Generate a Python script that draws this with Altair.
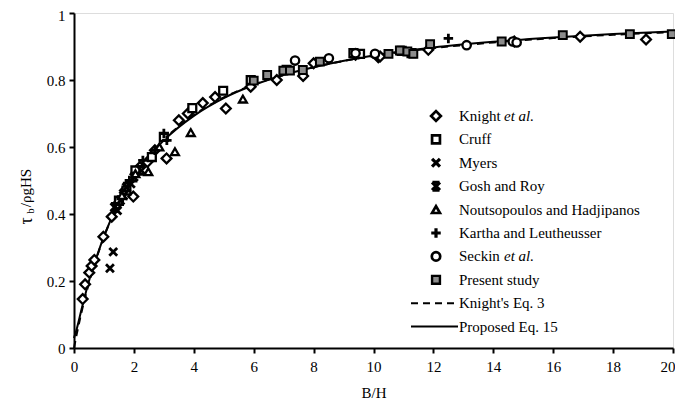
import altair as alt
import pandas as pd

FONT = "Liberation Serif"

# ---------------- data ----------------
knight_x = [0.29, 0.37, 0.51, 0.59, 0.68, 0.98, 1.26, 1.45, 1.7, 1.98, 2.2, 2.45, 2.7, 3.09, 3.5, 3.8,
            4.3, 4.71, 5.07, 5.9, 6.77, 7.65, 8.0, 9.4, 10.16, 10.22, 11.83, 14.7, 16.9, 19.1]
knight_y = [0.146, 0.19, 0.225, 0.245, 0.263, 0.332, 0.392, 0.43, 0.47, 0.452, 0.54, 0.555, 0.59, 0.566,
            0.68, 0.70, 0.731, 0.749, 0.715, 0.78, 0.80, 0.812, 0.85, 0.875, 0.868, 0.87, 0.89, 0.915, 0.929, 0.921]

cruff_x = [1.5, 1.75, 2.05, 2.6, 3.0, 3.95, 4.98, 5.9, 7.1, 9.33, 9.55, 10.94, 11.27]
cruff_y = [0.44, 0.47, 0.53, 0.57, 0.63, 0.716, 0.768, 0.80, 0.83, 0.88, 0.878, 0.887, 0.88]

myers_x = [1.2, 1.31, 1.45, 1.65, 1.9]
myers_y = [0.238, 0.287, 0.41, 0.455, 0.49]

gosh_x = [1.35, 1.55, 1.75, 2.0, 2.25]
gosh_y = [0.42, 0.44, 0.48, 0.51, 0.53]

nouts_x = [1.6, 2.05, 2.48, 2.85, 3.37, 3.9, 5.64]
nouts_y = [0.455, 0.52, 0.526, 0.60, 0.586, 0.643, 0.743]

kartha_x = [1.85, 2.3, 2.7, 3.0, 3.1, 12.5]
kartha_y = [0.5, 0.56, 0.59, 0.64, 0.62, 0.924]

seckin_x = [7.38, 8.51, 9.4, 10.05, 13.11, 14.65, 14.78]
seckin_y = [0.858, 0.865, 0.88, 0.878, 0.904, 0.915, 0.912]

present_x = [6.0, 6.45, 6.99, 7.21, 7.64, 8.21, 10.5, 10.88, 11.13, 11.33, 11.89, 14.28, 16.32, 18.56, 19.96]
present_y = [0.798, 0.815, 0.828, 0.828, 0.83, 0.855, 0.878, 0.888, 0.885, 0.878, 0.907, 0.915, 0.934, 0.937, 0.937]

curve_x = [0, 0.1, 0.25, 0.5, 0.75, 1, 1.5, 2, 2.5, 3, 4, 5, 6, 7, 8, 10, 12, 14, 16, 18, 20]
knight_eq_y = [0, 0.045, 0.107, 0.194, 0.268, 0.332, 0.434, 0.512, 0.573, 0.622, 0.695, 0.748, 0.786,
               0.815, 0.838, 0.872, 0.895, 0.912, 0.925, 0.935, 0.943]
proposed_eq_y = [0.03, 0.06, 0.115, 0.2, 0.27, 0.333, 0.435, 0.512, 0.572, 0.62, 0.693, 0.746, 0.785,
                 0.815, 0.838, 0.873, 0.897, 0.914, 0.927, 0.937, 0.945]

x_ticks = [0, 2, 4, 6, 8, 10, 12, 14, 16, 18, 20]
y_ticks = [0, 0.2, 0.4, 0.6, 0.8, 1]

# ---------------- styles ----------------
X_PATH = "M-1,-1L1,1M1,-1L-1,1"
GOSH_PATH = "M-1,-1L1,1M1,-1L-1,1M-0.9,-1L0.9,-1M-0.9,1L0.9,1"
PLUS_PATH = "M-1,0L1,0M0,-1L0,1"

series = [
    # name, xs, ys, shape, fill, size, strokeWidth
    ("Knight", knight_x, knight_y, "diamond", "white", 95, 2.3),
    ("Cruff", cruff_x, cruff_y, "square", "white", 62, 2.3),
    ("Myers", myers_x, myers_y, X_PATH, "transparent", 62, 2.8),
    ("Gosh and Roy", gosh_x, gosh_y, GOSH_PATH, "transparent", 62, 2.8),
    ("Noutsopoulos and Hadjipanos", nouts_x, nouts_y, "triangle-up", "white", 62, 2.3),
    ("Kartha and Leutheusser", kartha_x, kartha_y, PLUS_PATH, "transparent", 90, 2.8),
    ("Seckin", seckin_x, seckin_y, "circle", "white", 70, 2.3),
    ("Present study", present_x, present_y, "square", "#8c8c8c", 62, 2),
]

xscale = alt.Scale(domain=[0, 20], nice=False, zero=False)
yscale = alt.Scale(domain=[0, 1], nice=False, zero=False)

x_axis = alt.Axis(values=x_ticks, title="B/H", grid=False, tickSize=5, tickWidth=2, domainWidth=2,
                  domainColor="black", tickColor="black", labelFont=FONT, labelFontSize=15,
                  labelColor="black", labelPadding=6, titleFont=FONT, titleFontSize=15,
                  titleFontWeight="normal", titleColor="black", titlePadding=11, labelFlush=False,
                  labelAlign={"expr": "datum.value == 20 ? 'right' : 'center'"},
                  labelOffset={"expr": "datum.value == 20 ? 2 : 0"})
y_axis = alt.Axis(values=y_ticks, title="", grid=False, tickSize=5, tickWidth=2, domainWidth=2,
                  domainColor="black", tickColor="black", labelFont=FONT, labelFontSize=15,
                  labelColor="black", labelPadding=4, format="~g", labelFlush=False,
                  labelOffset={"expr": "datum.value == 1 ? 2 : 0"})

curves = pd.DataFrame({"x": curve_x, "knight": knight_eq_y, "proposed": proposed_eq_y})

knight_line = alt.Chart(curves).mark_line(color="black", strokeWidth=2, strokeDash=[7, 5],
                                          interpolate="monotone").encode(
    x=alt.X("x:Q", scale=xscale, axis=x_axis),
    y=alt.Y("knight:Q", scale=yscale, axis=y_axis),
)
proposed_line = alt.Chart(curves).mark_line(color="black", strokeWidth=2,
                                            interpolate="monotone").encode(
    x=alt.X("x:Q", scale=xscale, axis=x_axis),
    y=alt.Y("proposed:Q", scale=yscale, axis=y_axis),
)

layers = [knight_line, proposed_line]
for name, xs, ys, shape, fill, size, sw in series:
    df = pd.DataFrame({"x": xs, "y": ys})
    layers.append(
        alt.Chart(df).mark_point(shape=shape, fill=fill, stroke="black", strokeWidth=sw, size=size,
                                 opacity=1, fillOpacity=1, filled=False).encode(
            x=alt.X("x:Q", scale=xscale, axis=x_axis),
            y=alt.Y("y:Q", scale=yscale, axis=y_axis),
        )
    )

# ---------------- legend (layout in pixels) ----------------
one = pd.DataFrame({"a": [0]})
LEG_SYM_X = 362
LEG_TXT_X = 385
LEG_Y0 = 103
LEG_DY = 23.4
LEG_FS = 15

for i, (name, xs, ys, shape, fill, size, sw) in enumerate(series):
    yy = LEG_Y0 + i * LEG_DY
    layers.append(
        alt.Chart(one).mark_point(shape=shape, fill=fill, stroke="black", strokeWidth=sw + 0.4,
                                  size=size, opacity=1, fillOpacity=1, filled=False).encode(
            x=alt.value(LEG_SYM_X), y=alt.value(yy))
    )
    layers.append(
        alt.Chart(one).mark_text(align="left", baseline="middle", font=FONT, fontSize=LEG_FS,
                                 color="black").encode(
            x=alt.value(LEG_TXT_X), y=alt.value(yy), text=alt.value(name))
    )

# italic "et al."
for i, dx in [(0, 45), (6, 45)]:
    yy = LEG_Y0 + i * LEG_DY
    layers.append(
        alt.Chart(one).mark_text(align="left", baseline="middle", font=FONT, fontSize=LEG_FS,
                                 fontStyle="italic", color="black").encode(
            x=alt.value(LEG_TXT_X + dx), y=alt.value(yy), text=alt.value("et al."))
    )

line_entries = [("Knight's Eq. 3", [7, 5]), ("Proposed Eq. 15", [1, 0])]
for j, (label, dash) in enumerate(line_entries):
    yy = LEG_Y0 + (8 + j) * LEG_DY
    layers.append(
        alt.Chart(one).mark_rule(color="black", strokeWidth=2, strokeDash=dash).encode(
            x=alt.value(337), x2=alt.value(384), y=alt.value(yy))
    )
    layers.append(
        alt.Chart(one).mark_text(align="left", baseline="middle", font=FONT, fontSize=LEG_FS,
                                 color="black").encode(
            x=alt.value(LEG_TXT_X), y=alt.value(yy), text=alt.value(label))
    )

# ---------------- y axis title (tau_b / rho g H S) ----------------
ytitle_parts = [("τ", -47, 208, 18), ("b", -43, 198, 11), ("/ρgHS", -48, 175, 15)]
for txt, px, py, fs in ytitle_parts:
    layers.append(
        alt.Chart(one).mark_text(align="center", baseline="middle", font=FONT, fontSize=fs,
                                 angle=270, color="black").encode(
            x=alt.value(px), y=alt.value(py), text=alt.value(txt))
    )

chart = alt.layer(*layers).properties(
    width=599, height=335,
    padding={"left": 66, "top": 5, "right": 2, "bottom": 57},
    autosize=alt.AutoSizeParams(type="none"),
).configure_view(stroke=None).configure(background="white")

chart.save("out.html", embed_options={"renderer": "svg", "actions": False})
